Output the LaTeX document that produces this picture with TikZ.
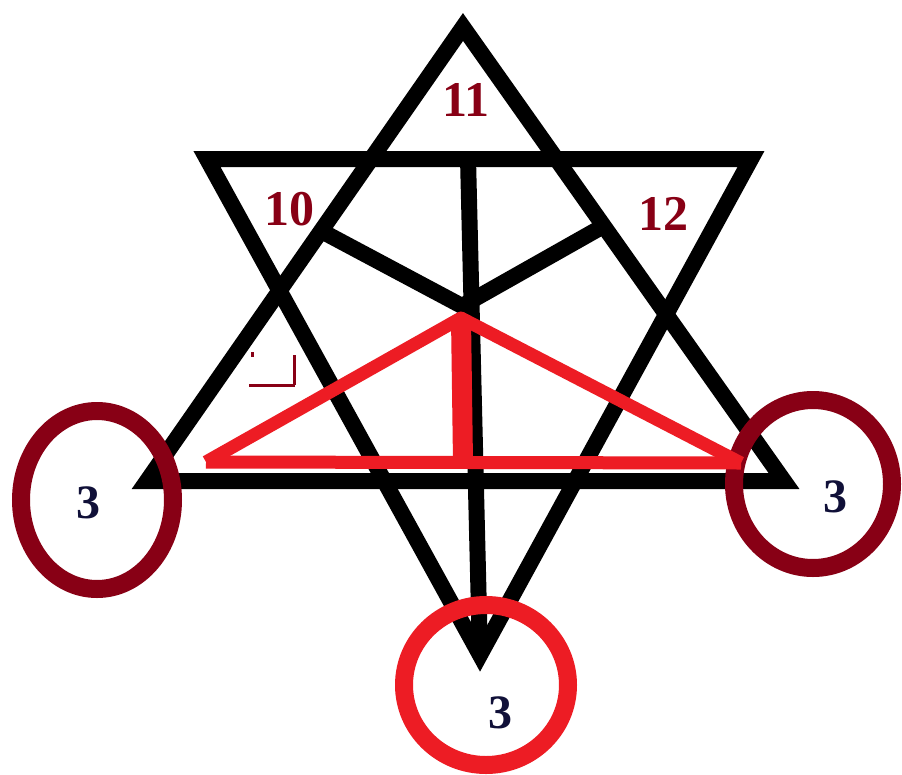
\documentclass[tikz,border=0pt]{standalone}
\usepackage{fontspec}
\setmainfont{Liberation Serif}
\definecolor{darkred}{HTML}{880015}
\definecolor{brightred}{HTML}{ED1C24}
\definecolor{navy3}{HTML}{101038}
\begin{document}
\begin{tikzpicture}[x=1pt,y=-1pt,
  blackline/.style={line width=16pt,line join=miter,black},
  redline/.style={line width=13pt,brightred,line join=round},
  ring/.style={line width=18pt},
  numlbl/.style={font=\bfseries\fontsize{50}{50}\selectfont,text=darkred,inner sep=0pt},
  threelbl/.style={font=\bfseries\fontsize{48}{48}\selectfont,text=navy3,inner sep=0pt}]
\useasboundingbox (0,0) rectangle (902,774);
\fill[white] (0,0) rectangle (902,774);
% up triangle
\coordinate (UA) at (463,27);
\coordinate (UL) at (147,481);
\coordinate (UR) at (784,481);
% down triangle
\coordinate (DL) at (207,159);
\coordinate (DR) at (751,159);
\coordinate (DB) at (480,655);
% centre and spokes
\coordinate (C) at (462,306);
\coordinate (SL) at (325,233);
\coordinate (SR) at (600,228);
\coordinate (ST) at (468,158);
\draw[blackline] (UA) -- (UL) -- (UR) -- cycle;
\draw[blackline] (DL) -- (DR) -- (DB) -- cycle;
\draw[blackline] (ST) -- (DB);
\draw[blackline] (SL) -- (C) -- (SR);
% red triangle
\coordinate (RA) at (461,318);
\coordinate (RL) at (206,462);
\coordinate (RR) at (741,463);
\coordinate (RB) at (463,462);
\draw[ring,darkred] (97,500) ellipse[x radius=76,y radius=89];
\draw[ring,darkred] (813,484) ellipse[x radius=79,y radius=84];
\draw[ring,brightred] (486,685) ellipse[x radius=82,y radius=80];
\draw[redline] (RL) -- (RA) -- (RR);
\draw[redline] (RL) -- (RR);
\draw[line width=20pt,brightred] (RA) -- (RB);
% erased label fragment
\draw[darkred,line width=3pt] (249,385) -- (295,385);
\draw[darkred,line width=3pt] (294,355) -- (294,385);
\fill[darkred] (251,352) rectangle (254,357);
% labels
\node[numlbl] (l11) at (466,100) {11};
\node[numlbl] (l10) at (289,209) {10};
\node[numlbl] (l12) at (663,214) {12};
\node[threelbl] (t1) at (88,503) {3};
\node[threelbl] (t2) at (835,497) {3};
\node[threelbl] (t3) at (500,713) {3};
\end{tikzpicture}
\end{document}
